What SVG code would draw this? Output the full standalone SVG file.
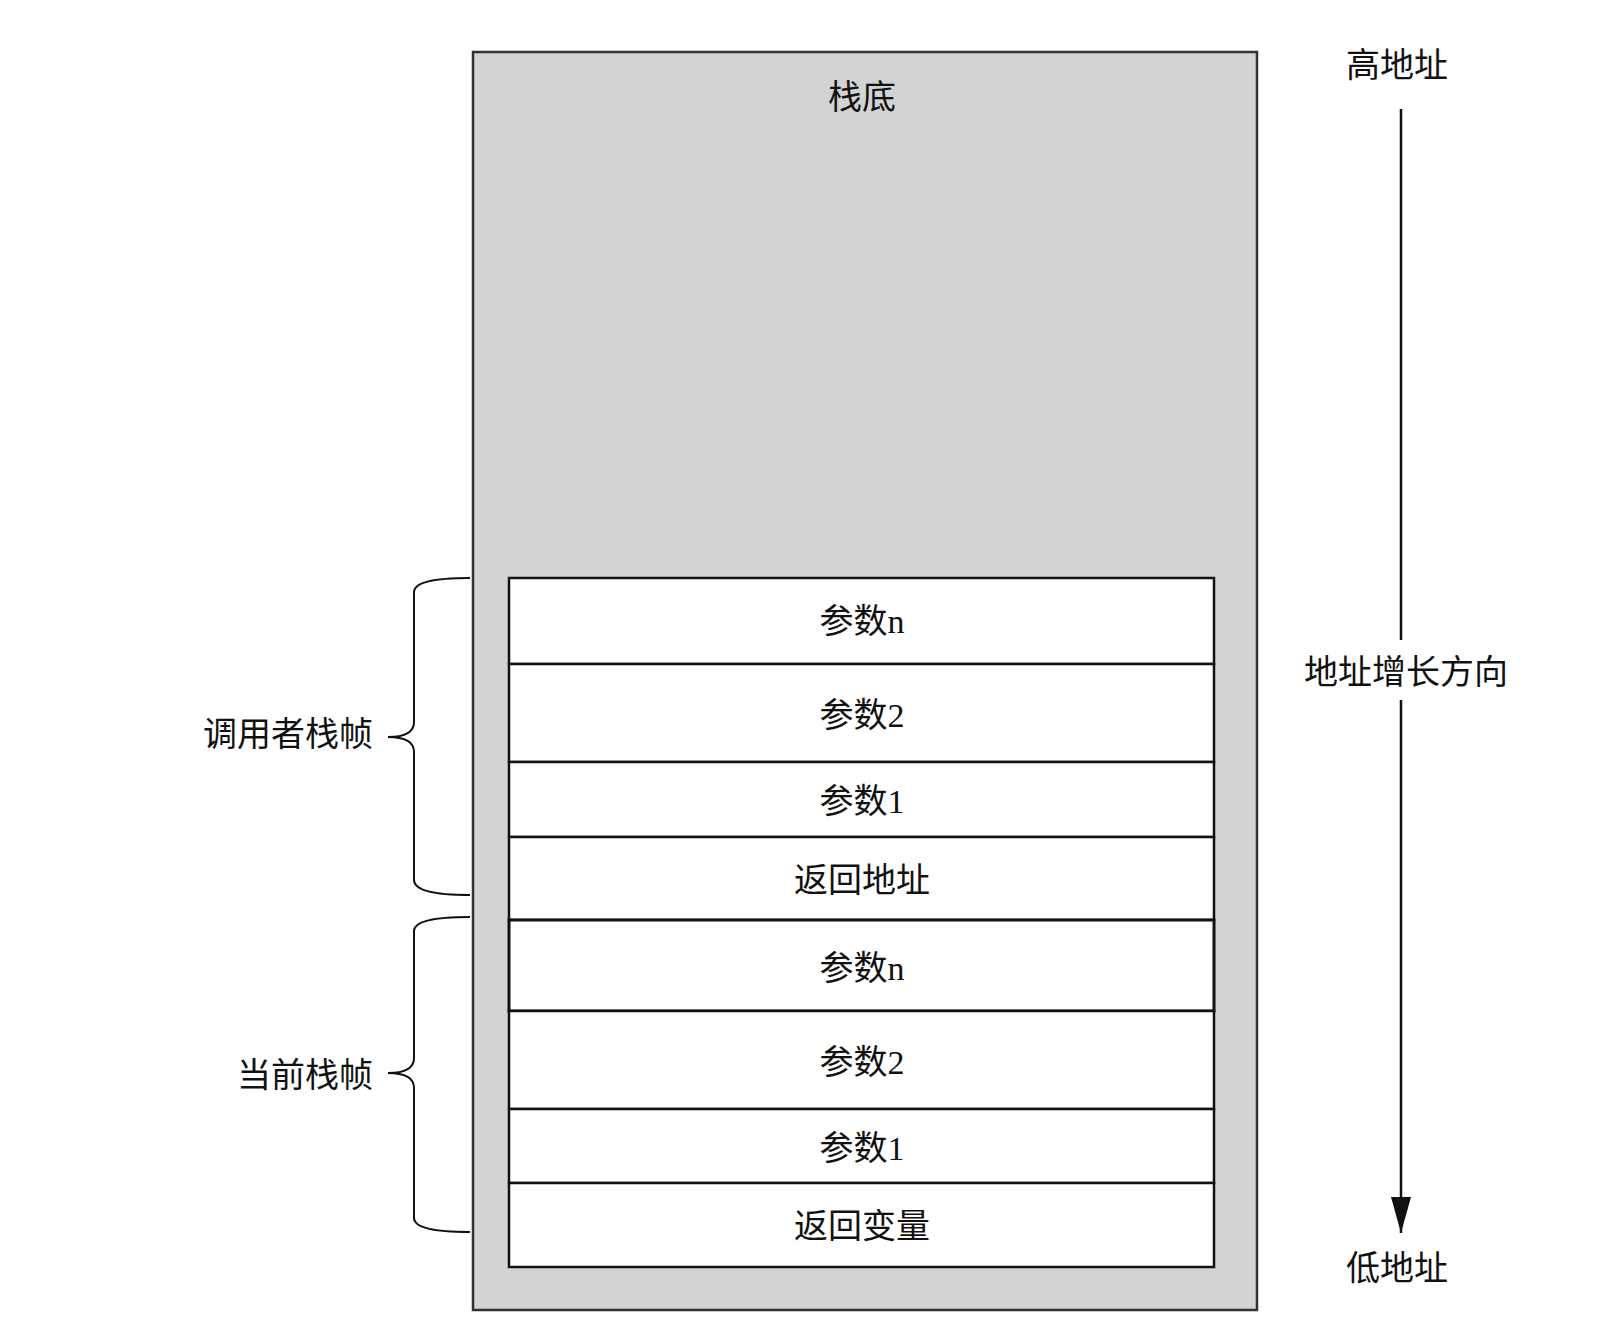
<svg xmlns="http://www.w3.org/2000/svg" width="1600" height="1335" viewBox="0 0 1600 1335">
<style>
text{font-family:"Liberation Serif","Noto Sans CJK SC",serif;font-size:34px;fill:#111;text-anchor:middle;dominant-baseline:central}
.row{fill:#fff;stroke:#111;stroke-width:2.5}
.br{fill:none;stroke:#111;stroke-width:2}
</style>
<defs><marker id="ah" viewBox="0 0 36 20" refX="36" refY="10" markerWidth="36" markerHeight="20" markerUnits="userSpaceOnUse" orient="auto"><path d="M0,0 L36,10 L0,20 Z" fill="#111"/></marker></defs>
<rect width="1600" height="1335" fill="#fff"/>
<g id="stack"><rect x="473" y="52" width="784" height="1258" fill="#d3d3d3" stroke="#333" stroke-width="2.5"/><text x="862" y="97">栈底</text></g>
<g id="r1"><rect class="row" x="509" y="578" width="705" height="86"/><text x="862" y="621">参数n</text></g>
<g id="r2"><rect class="row" x="509" y="664" width="705" height="98"/><text x="862" y="715">参数2</text></g>
<g id="r3"><rect class="row" x="509" y="762" width="705" height="75"/><text x="862" y="801">参数1</text></g>
<g id="r4"><rect class="row" x="509" y="837" width="705" height="83"/><text x="862" y="880">返回地址</text></g>
<g id="r5"><rect class="row" x="509" y="920" width="705" height="91" style="stroke-width:3"/><text x="862" y="968">参数n</text></g>
<g id="r6"><rect class="row" x="509" y="1011" width="705" height="98"/><text x="862" y="1062">参数2</text></g>
<g id="r7"><rect class="row" x="509" y="1109" width="705" height="74"/><text x="862" y="1148">参数1</text></g>
<g id="r8"><rect class="row" x="509" y="1183" width="705" height="84"/><text x="862" y="1226">返回变量</text></g>
<g id="b1"><path class="br" d="M470,578 Q414,578 414,592 V722 Q414,737 388,737 Q414,737 414,752 V880 Q414,895 470,895"/><text x="288" y="734">调用者栈帧</text></g>
<g id="b2"><path class="br" d="M470,917 Q414,917 414,931 V1058 Q414,1073 388,1073 Q414,1073 414,1088 V1218 Q414,1232 470,1232"/><text x="305" y="1075">当前栈帧</text></g>
<g id="labels"><text x="1397" y="65">高地址</text><text x="1406" y="672">地址增长方向</text><text x="1397" y="1268">低地址</text></g>
<g id="connectors"><line x1="1401" y1="109" x2="1401" y2="640" stroke="#111" stroke-width="2.5"/><line x1="1401" y1="700" x2="1401" y2="1233" stroke="#111" stroke-width="2.5" marker-end="url(#ah)"/></g>
</svg>
